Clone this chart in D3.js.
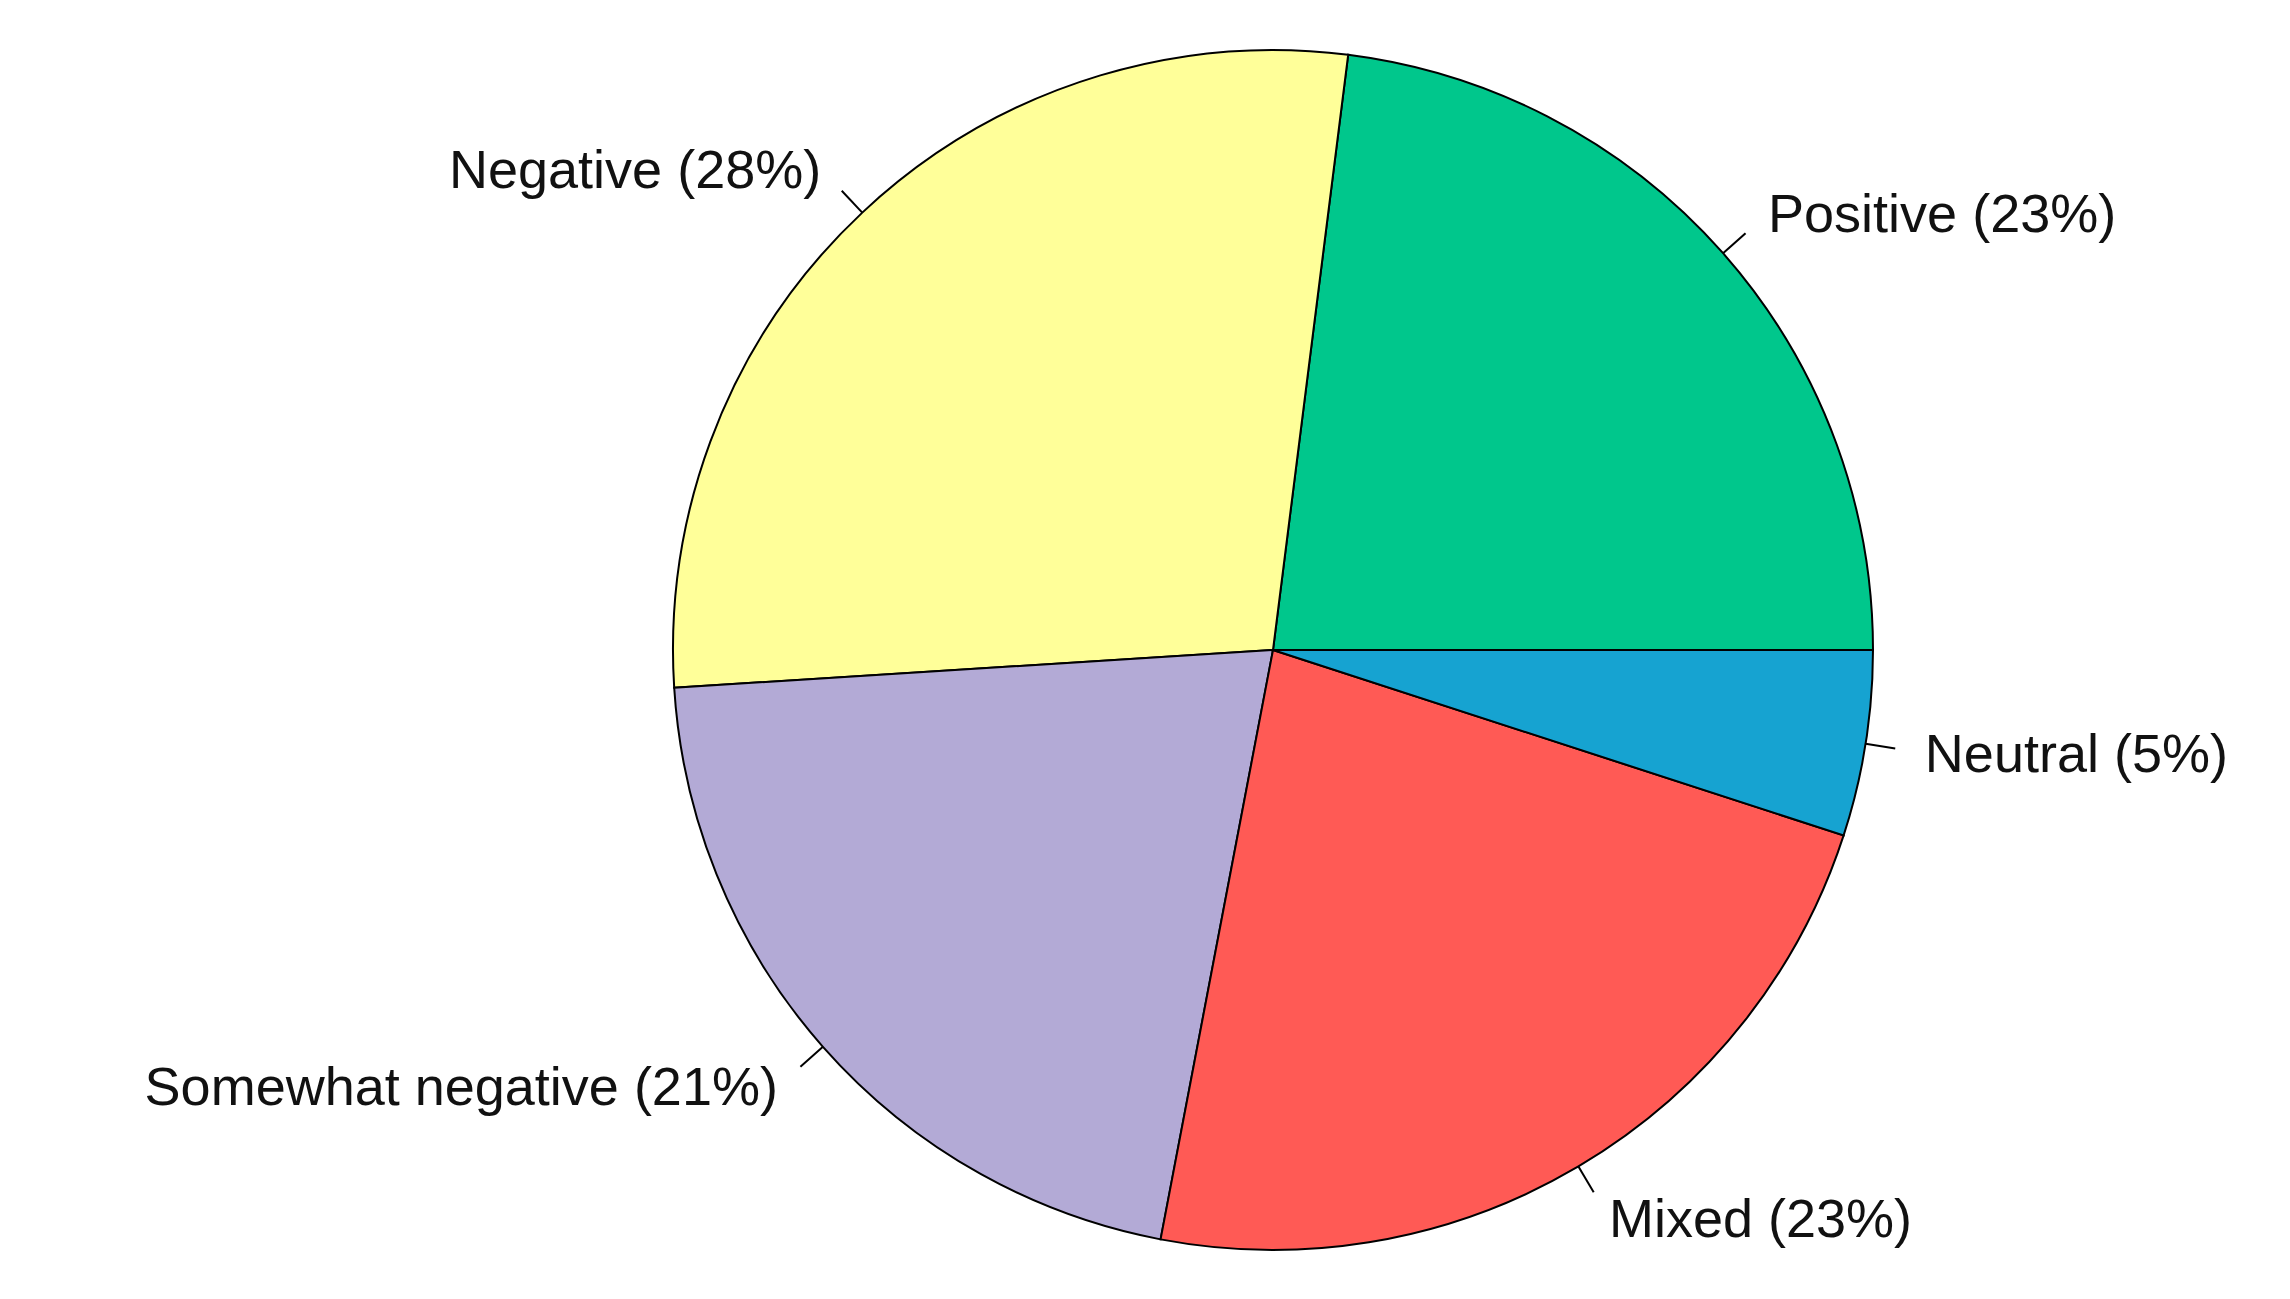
<!DOCTYPE html>
<html><head><meta charset="utf-8">
<script src="https://cdn.jsdelivr.net/npm/d3@7"></script>
<style>body{margin:0;background:#fff}</style></head>
<body><svg id="c" width="2290" height="1299"></svg>
<script>
const labels = ["Positive (23%)","Negative (28%)","Somewhat negative (21%)","Mixed (23%)","Neutral (5%)"];
const values = [23,28,21,23,5];
const colors = ["#00C78C","#FFFF99","#B3AAD6","#FF5A55","#16A3D1"];

const svg = d3.select("#c");
const cx = 1273, cy = 650, r = 600;
const total = d3.sum(values);
const ang = d3.scaleLinear().domain([0,total]).range([0, 2*Math.PI]);
const g = svg.append("g").attr("transform",`translate(${cx},${cy})`);
let cum = 0;
const slices = values.map((v,i)=>{const s=cum; cum+=v; return {i,s,e:cum};});
// R pie: counterclockwise from 3 o'clock. d3.arc: 0 at 12 o'clock, clockwise.
const toD3 = a => Math.PI/2 - a;
const arc = d3.arc().innerRadius(0).outerRadius(r);
g.selectAll("path").data(slices).join("path")
 .attr("d", d=>arc({startAngle: toD3(ang(d.e)), endAngle: toD3(ang(d.s))}))
 .attr("fill", d=>colors[d.i]).attr("stroke","#000").attr("stroke-width",2);
slices.forEach(d=>{
  const m = ang((d.s+d.e)/2), c=Math.cos(m), s=-Math.sin(m);
  g.append("line").attr("x1",c*r).attr("y1",s*r).attr("x2",c*r*1.05).attr("y2",s*r*1.05)
   .attr("stroke","#000").attr("stroke-width",2);
  g.append("text").attr("x",c*r*1.1).attr("y",s*r*1.1).attr("dy","0.35em")
   .attr("text-anchor", c>0?"start":"end")
   .attr("font-family","Liberation Sans, Arial, sans-serif").attr("font-size",54)
   .attr("fill","#111").text(labels[d.i]);
});
</script></body></html>
